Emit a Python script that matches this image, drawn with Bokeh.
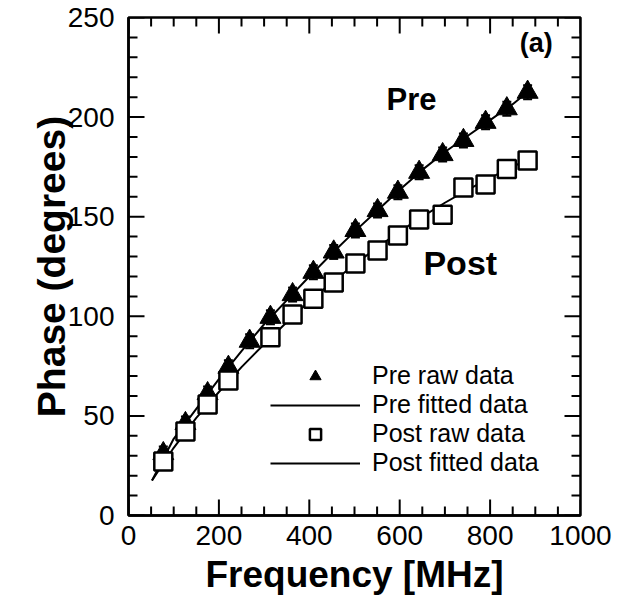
from bokeh.plotting import figure
from bokeh.models import (Range1d, FixedTicker, Legend, LegendItem,
                          ColumnDataSource, Whisker, TeeHead, Label)
from bokeh.embed import file_html
from bokeh.resources import INLINE

# ---- data ----
pre_freq = [77, 126, 175, 221, 268, 314, 363, 409, 454, 502, 551, 596, 643, 695, 741, 790, 837, 883]
pre_phase = [31.1, 46.2, 61.2, 74.4, 87.5, 99.5, 110.9, 122.1, 132.3, 143.1, 153.1, 162.3,
             172.3, 181.2, 188.3, 197.4, 204.2, 212.5]
pre_err = [3.5, 3.5, 3.5, 3.5, 3.5, 3.5, 3.5, 3.5, 3.5, 3.5, 3.5, 3.5, 3.5, 3.5, 3.5, 3.5, 3.5, 3.5]

post_freq = [77, 126, 175, 221, 314, 363, 409, 454, 502, 551, 596, 643, 695, 741, 790, 837, 883]
post_phase = [27.1, 42.2, 55.7, 67.8, 89.5, 100.9, 108.8, 117.0, 126.5, 133.0, 140.6, 148.6,
              151.0, 164.7, 166.2, 174.0, 178.2]

fit_freq = [52, 100, 150, 200, 250, 300, 350, 400, 450, 500, 550, 600, 650, 700, 750, 800, 850, 885]
pre_fit = [17.6, 38.5, 53.5, 68.5, 82.5, 96, 108, 120, 131.5, 142.5, 153, 163.5, 173.5, 182.5,
           190.5, 198.5, 206.5, 213]
post_fit = [17.6, 34, 49, 62, 74.5, 86, 97, 107.5, 117, 126, 134.5, 142.5, 150, 157, 163.5,
            169.5, 175, 179]

x_ticks = [0, 200, 400, 600, 800, 1000]
x_minor = [50, 100, 150, 250, 300, 350, 450, 500, 550, 650, 700, 750, 850, 900, 950]
y_ticks = [0, 50, 100, 150, 200, 250]
y_minor = [10, 20, 30, 40, 60, 70, 80, 90, 110, 120, 130, 140, 160, 170, 180, 190, 210, 220, 230, 240]

X0, X1, Y0, Y1 = 0, 1000, 0, 250
FONT = "Liberation Sans"

p = figure(width=618, height=607, output_backend="svg", toolbar_location=None,
           x_range=Range1d(X0, X1), y_range=Range1d(Y0, Y1),
           min_border_left=128, min_border_right=38, min_border_top=17, min_border_bottom=92)
p.grid.visible = False
p.outline_line_color = "black"
p.outline_line_width = 2.5
p.background_fill_color = "white"
p.border_fill_color = "white"

for ax, ticks, label, lsize in ((p.xaxis[0], x_ticks, "Frequency [MHz]", "37px"),
                                (p.yaxis[0], y_ticks, "Phase (degrees)", "39px")):
    ax.ticker = FixedTicker(ticks=ticks, minor_ticks=[])
    ax.axis_line_width = 2.5
    ax.axis_line_color = "black"
    ax.major_tick_in = 0
    ax.major_tick_out = 0
    ax.minor_tick_in = 0
    ax.minor_tick_out = 0
    ax.major_label_text_font = FONT
    ax.major_label_text_font_size = "28px"
    ax.major_label_text_color = "black"
    ax.axis_label = label
    ax.axis_label_text_font = FONT
    ax.axis_label_text_font_style = "bold"
    ax.axis_label_text_font_size = lsize
    ax.axis_label_text_color = "black"
p.xaxis[0].major_label_standoff = 10
p.xaxis[0].axis_label_standoff = 6
p.yaxis[0].major_label_standoff = 14
p.yaxis[0].axis_label_standoff = -8

# inward tick marks on all four sides (pixel lengths converted to data units)
px_x = (X1 - X0) / 452.0
px_y = (Y1 - Y0) / 498.0
MAJ, MIN = 16, 9
for ticks, L in ((x_ticks, MAJ), (x_minor, MIN)):
    src_b = ColumnDataSource(dict(x=ticks, a=[Y0 for _ in ticks], b=[Y0 + L * px_y for _ in ticks]))
    src_t = ColumnDataSource(dict(x=ticks, a=[Y1 for _ in ticks], b=[Y1 - L * px_y for _ in ticks]))
    p.segment(x0="x", y0="a", x1="x", y1="b", source=src_b, line_color="black", line_width=2)
    p.segment(x0="x", y0="a", x1="x", y1="b", source=src_t, line_color="black", line_width=2)
for ticks, L in ((y_ticks, MAJ), (y_minor, MIN)):
    src_l = ColumnDataSource(dict(y=ticks, a=[X0 for _ in ticks], b=[X0 + L * px_x for _ in ticks]))
    src_r = ColumnDataSource(dict(y=ticks, a=[X1 for _ in ticks], b=[X1 - L * px_x for _ in ticks]))
    p.segment(x0="a", y0="y", x1="b", y1="y", source=src_l, line_color="black", line_width=2)
    p.segment(x0="a", y0="y", x1="b", y1="y", source=src_r, line_color="black", line_width=2)

# fitted lines
l_pre = p.line(fit_freq, pre_fit, line_color="black", line_width=2)
l_post = p.line(fit_freq, post_fit, line_color="black", line_width=2)

# error bars on pre data
src_pre = ColumnDataSource(dict(x=pre_freq, y=pre_phase,
                                up=[a + b for a, b in zip(pre_phase, pre_err)],
                                lo=[a - b for a, b in zip(pre_phase, pre_err)]))
wh = Whisker(source=src_pre, base="x", upper="up", lower="lo", line_width=2, line_color="black",
             upper_head=TeeHead(size=9, line_width=2, line_color="black"),
             lower_head=TeeHead(size=9, line_width=2, line_color="black"))
p.add_layout(wh)

s_pre = p.scatter("x", "y", source=src_pre, marker="triangle", size=21,
                  fill_color="black", line_color="black", line_width=1)
s_post = p.scatter(post_freq, post_phase, marker="square", size=18,
                   fill_color="white", line_color="black", line_width=2.5)

# annotations
p.add_layout(Label(x=626, y=209, text="Pre", text_font=FONT, text_font_style="bold",
                   text_font_size="31px", text_align="center", text_baseline="middle",
                   text_color="black"))
p.add_layout(Label(x=734, y=127, text="Post", text_font=FONT, text_font_style="bold",
                   text_font_size="34px", text_align="center", text_baseline="middle",
                   text_color="black"))
p.add_layout(Label(x=902, y=237, text="(a)", text_font=FONT, text_font_style="bold",
                   text_font_size="27px", text_align="center", text_baseline="middle",
                   text_color="black"))

legend = Legend(items=[
    LegendItem(label="Pre raw data", renderers=[s_pre]),
    LegendItem(label="Pre fitted data", renderers=[l_pre]),
    LegendItem(label="Post raw data", renderers=[s_post]),
    LegendItem(label="Post fitted data", renderers=[l_post]),
], location=(142, 38))
legend.label_text_font = FONT
legend.label_text_font_size = "25px"
legend.label_text_color = "black"
legend.label_standoff = 12
legend.glyph_width = 90
legend.glyph_height = 28
legend.label_height = 27
legend.spacing = 0
legend.padding = 0
legend.margin = 0
legend.border_line_color = None
legend.background_fill_alpha = 0
p.add_layout(legend)

open("out.html", "w").write(file_html(p, INLINE))
